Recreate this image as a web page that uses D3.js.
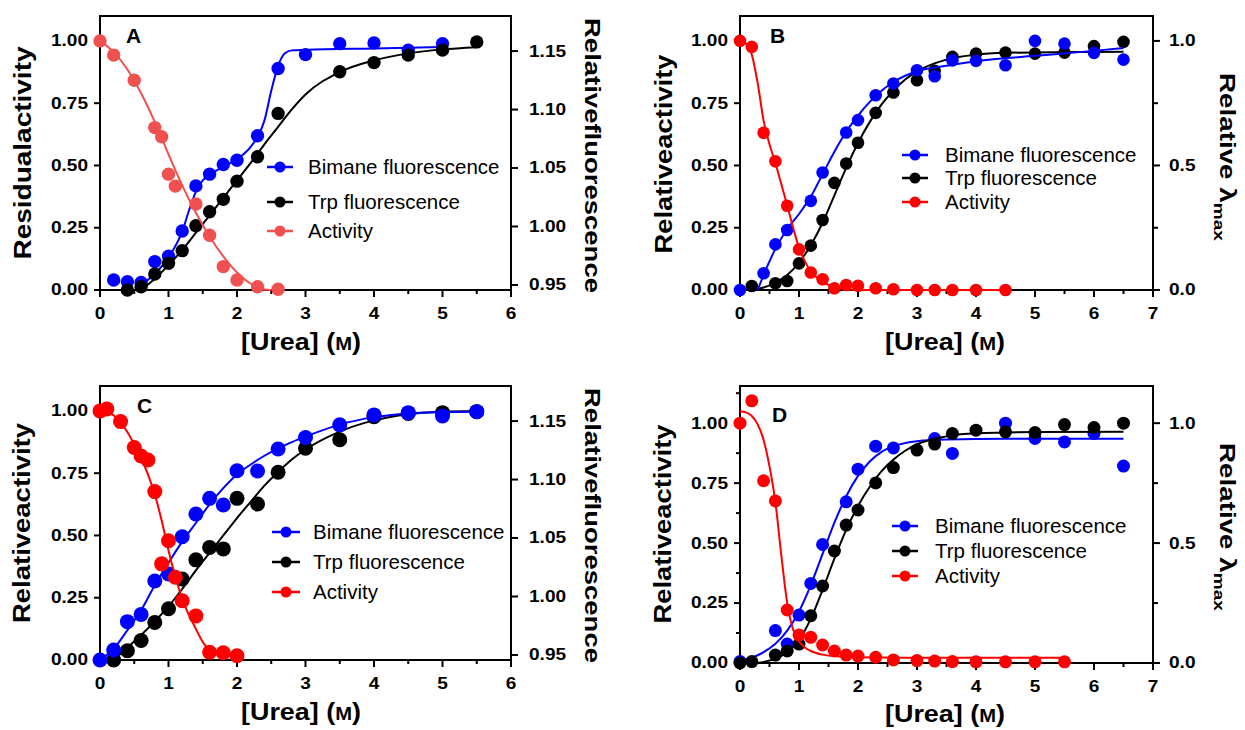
<!DOCTYPE html>
<html>
<head>
<meta charset="utf-8">
<script src="https://cdn.jsdelivr.net/npm/d3@7"></script>
<style>
  body { margin: 0; background: #fff; }
  svg { display: block; }
  text { font-family: "Liberation Sans", Arial, Helvetica, sans-serif; fill: #000; }
</style>
</head>
<body>
<svg id="fig" width="1245" height="730"></svg>
<script>
// ---------- measured points: [urea (M), normalised signal] ----------
const bimaneA   = [[0.2,0.04],[0.4,0.033],[0.6,0.03],[0.8,0.114],[1.0,0.136],[1.2,0.237],[1.4,0.418],[1.6,0.465],[1.8,0.504],[2.0,0.521],[2.3,0.619],[2.6,0.889],[3.0,0.945],[3.5,0.989],[4.0,0.992],[4.5,0.963],[5.0,0.989]];
const trpA      = [[0.4,0.0],[0.6,0.013],[0.8,0.064],[1.0,0.107],[1.2,0.158],[1.4,0.258],[1.6,0.314],[1.8,0.364],[2.0,0.437],[2.3,0.535],[2.6,0.709],[3.5,0.876],[4.0,0.913],[4.5,0.943],[5.0,0.963],[5.5,0.996]];
const activityA = [[0,1.0],[0.2,0.943],[0.5,0.842],[0.8,0.652],[0.9,0.615],[1.0,0.465],[1.1,0.417],[1.4,0.345],[1.6,0.22],[1.8,0.094],[2.0,0.04],[2.3,0.013],[2.6,0.003]];

const bimaneB   = [[0,0],[0.4,0.067],[0.6,0.183],[0.8,0.241],[1.2,0.358],[1.4,0.472],[1.8,0.632],[2.0,0.682],[2.3,0.782],[2.6,0.829],[3.0,0.882],[3.3,0.858],[3.6,0.922],[4.0,0.92],[4.5,0.902],[5.0,1.0],[5.5,0.989],[6.0,0.952],[6.5,0.925]];
const trpB      = [[0.2,0.016],[0.6,0.027],[0.8,0.036],[1.0,0.107],[1.2,0.178],[1.4,0.281],[1.6,0.43],[1.8,0.508],[2.0,0.591],[2.3,0.711],[2.6,0.793],[3.0,0.842],[3.3,0.88],[3.6,0.936],[4.0,0.949],[4.5,0.953],[5.0,0.949],[5.5,0.953],[6.0,0.979],[6.5,0.996]];
const activityB = [[0,1.0],[0.2,0.976],[0.4,0.631],[0.6,0.517],[0.8,0.338],[1.0,0.163],[1.2,0.07],[1.4,0.043],[1.6,0.007],[1.8,0.02],[2.0,0.017],[2.3,0.007],[2.6,0.003],[3.0,0],[3.3,0],[3.6,0],[4.0,0],[4.5,0]];

const bimaneC   = [[0,0],[0.2,0.04],[0.4,0.154],[0.6,0.183],[0.8,0.317],[1.0,0.345],[1.2,0.495],[1.4,0.586],[1.6,0.649],[1.8,0.622],[2.0,0.76],[2.3,0.759],[2.6,0.847],[3.0,0.893],[3.5,0.944],[4.0,0.984],[4.5,0.993],[5.0,0.98],[5.5,0.997]];
const trpC      = [[0.2,0.0],[0.4,0.037],[0.6,0.078],[0.8,0.151],[1.0,0.206],[1.2,0.325],[1.4,0.402],[1.6,0.452],[1.8,0.446],[2.0,0.649],[2.3,0.626],[2.6,0.754],[3.0,0.85],[3.5,0.884],[4.0,0.977],[4.5,0.99],[5.0,0.993],[5.5,0.997]];
const activityC = [[0,1.0],[0.1,1.008],[0.3,0.957],[0.5,0.853],[0.6,0.819],[0.7,0.803],[0.8,0.676],[0.9,0.386],[1.0,0.479],[1.1,0.332],[1.2,0.238],[1.4,0.177],[1.6,0.031],[1.8,0.029],[2.0,0.017]];

const bimaneD   = [[0,0.006],[0.6,0.135],[0.8,0.079],[1.0,0.2],[1.2,0.332],[1.4,0.494],[1.8,0.672],[2.0,0.808],[2.3,0.904],[2.6,0.897],[3.3,0.936],[3.6,0.874],[4.5,1.0],[5.0,0.936],[5.5,0.922],[6.0,0.957],[6.5,0.821]];
const trpD      = [[0,0],[0.2,0.006],[0.6,0.033],[0.8,0.05],[1.0,0.079],[1.2,0.197],[1.4,0.321],[1.6,0.467],[1.8,0.575],[2.0,0.638],[2.3,0.751],[2.6,0.815],[3.0,0.888],[3.3,0.913],[3.6,0.957],[4.0,0.971],[4.5,0.964],[5.0,0.961],[5.5,0.994],[6.0,0.982],[6.5,1.0]];
const activityD = [[0,1.0],[0.2,1.093],[0.4,0.76],[0.6,0.676],[0.8,0.221],[1.0,0.117],[1.2,0.107],[1.4,0.075],[1.6,0.05],[1.8,0.033],[2.0,0.029],[2.3,0.024],[2.6,0.013],[3.0,0.01],[3.3,0.008],[3.6,0.006],[4.0,0.005],[4.5,0.005],[5.0,0.005],[5.5,0.005]];

// ---------- fitted curves, sampled: [urea (M), fitted signal] ----------
const bimaneFitA   = [[0.6,0.02],[0.8,0.065],[1.0,0.13],[1.2,0.235],[1.3,0.32],[1.4,0.395],[1.5,0.44],[1.6,0.462],[1.8,0.495],[2.0,0.525],[2.2,0.575],[2.3,0.615],[2.4,0.68],[2.5,0.8],[2.6,0.9],[2.7,0.95],[2.8,0.962],[3.0,0.964],[4.0,0.97],[5.0,0.976]];
const trpFitA      = [[0.6,0.0],[0.8,0.045],[1.0,0.1],[1.2,0.16],[1.4,0.23],[1.6,0.3],[1.8,0.37],[2.0,0.44],[2.2,0.51],[2.4,0.585],[2.6,0.655],[2.8,0.725],[3.0,0.785],[3.5,0.875],[4.0,0.922],[4.5,0.95],[5.0,0.966],[5.5,0.975]];
const activityFitA = [[0,1.0],[0.2,0.955],[0.4,0.885],[0.6,0.79],[0.8,0.675],[1.0,0.545],[1.2,0.42],[1.4,0.31],[1.6,0.215],[1.8,0.135],[2.0,0.07],[2.2,0.025],[2.4,0.002],[2.5,0.0]];

const bimaneFitB   = [[0.3,0.0],[0.4,0.06],[0.6,0.165],[0.8,0.245],[1.0,0.305],[1.2,0.375],[1.4,0.465],[1.6,0.555],[1.8,0.635],[2.0,0.7],[2.2,0.755],[2.4,0.8],[2.6,0.835],[2.8,0.86],[3.0,0.878],[3.5,0.9],[4.0,0.918],[5.0,0.94],[6.0,0.96],[6.5,0.972]];
const trpFitB      = [[0.2,0.0],[0.4,0.01],[0.6,0.03],[0.8,0.06],[1.0,0.11],[1.2,0.18],[1.4,0.27],[1.6,0.38],[1.8,0.49],[2.0,0.59],[2.2,0.675],[2.4,0.745],[2.6,0.8],[2.8,0.845],[3.0,0.878],[3.5,0.925],[4.0,0.945],[4.5,0.952],[5.5,0.955],[6.5,0.956]];
const activityFitB = [[0,1.0],[0.1,0.99],[0.2,0.945],[0.3,0.83],[0.4,0.68],[0.5,0.585],[0.6,0.51],[0.7,0.425],[0.8,0.34],[0.9,0.25],[1.0,0.17],[1.1,0.115],[1.2,0.075],[1.3,0.05],[1.4,0.033],[1.6,0.012],[1.8,0.004],[2.0,0.0],[4.5,0.0]];

const bimaneFitC   = [[0,0],[0.2,0.045],[0.4,0.12],[0.6,0.2],[0.8,0.3],[1.0,0.39],[1.2,0.475],[1.4,0.55],[1.6,0.625],[1.8,0.69],[2.0,0.745],[2.2,0.785],[2.4,0.82],[2.6,0.85],[2.8,0.875],[3.0,0.897],[3.5,0.945],[4.0,0.975],[4.5,0.99],[5.0,0.995],[5.5,0.997]];
const trpFitC      = [[0.2,0.0],[0.4,0.05],[0.6,0.1],[0.8,0.155],[1.0,0.215],[1.2,0.285],[1.4,0.36],[1.6,0.43],[1.8,0.5],[2.0,0.57],[2.2,0.635],[2.4,0.7],[2.6,0.755],[2.8,0.805],[3.0,0.845],[3.5,0.917],[4.0,0.962],[4.5,0.987],[5.0,0.997],[5.5,1.0]];
const activityFitC = [[0,1.0],[0.1,0.997],[0.2,0.982],[0.3,0.955],[0.4,0.915],[0.5,0.865],[0.6,0.81],[0.7,0.745],[0.8,0.665],[0.9,0.56],[1.0,0.44],[1.1,0.335],[1.2,0.245],[1.3,0.18],[1.4,0.125],[1.5,0.072],[1.6,0.038],[1.7,0.024],[1.8,0.019],[2.0,0.016]];

const bimaneFitD   = [[0,0.01],[0.2,0.022],[0.4,0.045],[0.6,0.08],[0.8,0.135],[1.0,0.215],[1.2,0.325],[1.4,0.455],[1.6,0.585],[1.8,0.695],[2.0,0.78],[2.2,0.84],[2.4,0.88],[2.6,0.903],[2.8,0.917],[3.0,0.925],[3.5,0.932],[4.5,0.935],[6.5,0.935]];
const trpFitD      = [[0.3,0.0],[0.6,0.018],[0.8,0.045],[1.0,0.095],[1.2,0.185],[1.4,0.305],[1.6,0.435],[1.8,0.555],[2.0,0.655],[2.2,0.735],[2.4,0.8],[2.6,0.848],[2.8,0.885],[3.0,0.912],[3.5,0.945],[4.0,0.958],[5.0,0.963],[6.5,0.964]];
const activityFitD = [[0,1.05],[0.1,1.045],[0.2,1.03],[0.3,0.995],[0.4,0.93],[0.5,0.82],[0.6,0.67],[0.7,0.45],[0.8,0.25],[0.9,0.14],[1.0,0.09],[1.1,0.065],[1.2,0.05],[1.4,0.035],[1.7,0.027],[2.0,0.024],[3.0,0.022],[5.5,0.022]];

// ---------- labels and ticks ----------
const legendLabels   = ["Bimane fluorescence", "Trp fluorescence", "Activity"];
const leftTicks      = [0, 0.25, 0.5, 0.75, 1.0];
const leftMinorD     = [0.125, 0.375, 0.625, 0.875, 1.125];
const fluorTicks     = [0.95, 1.00, 1.05, 1.10, 1.15];
const lambdaTicks    = [0, 0.5, 1.0];
const lambdaMinor    = [0.25, 0.75];
const xTitleMain     = "[Urea] (";
const xTitleUnit     = "M";

const BLUE = "#0000ff", BLACK = "#000000", RED = "#ff0000", SALMON = "#f05050";

// ---------- panel layout ----------
const panels = [
  { letter: "A", lx: 126, ly: 43, ox: 100, oy: 16, w: 411, h: 274, xMax: 6, yTop: 1.1, r: 6.7,
    yTitle: "Residualactivity", yTitleX: 31, yTitleY: 153, yTitleLen: 213,
    right: "fluor", rTitleX: 585, rTitleY: 155.5,
    xTitleX: 301, xTitleY: 350,
    series: [ {d: bimaneA, f: bimaneFitA, c: BLUE}, {d: trpA, f: trpFitA, c: BLACK}, {d: activityA, f: activityFitA, c: SALMON} ],
    legend: { x1: 267, x2: 293, cx: 280, tx: 308, rows: [167, 202, 231] } },
  { letter: "B", lx: 770, ly: 43, ox: 740, oy: 16, w: 413, h: 274, xMax: 7, yTop: 1.1, r: 6.3,
    yTitle: "Relativeactivity", yTitleX: 672, yTitleY: 154, yTitleLen: 199,
    right: "lambda", rTitleX: 1220, rTitleY: 157,
    xTitleX: 945, xTitleY: 350,
    series: [ {d: trpB, f: trpFitB, c: BLACK}, {d: bimaneB, f: bimaneFitB, c: BLUE}, {d: activityB, f: activityFitB, c: RED} ],
    legend: { x1: 902, x2: 928, cx: 915, tx: 945, rows: [155, 178, 202] } },
  { letter: "C", lx: 137, ly: 413, ox: 100, oy: 386, w: 411, h: 274, xMax: 6, yTop: 1.1, r: 7.5,
    yTitle: "Relativeactivity", yTitleX: 30, yTitleY: 523, yTitleLen: 200,
    right: "fluor", rTitleX: 585, rTitleY: 525.5,
    xTitleX: 301, xTitleY: 720,
    series: [ {d: trpC, f: trpFitC, c: BLACK}, {d: bimaneC, f: bimaneFitC, c: BLUE}, {d: activityC, f: activityFitC, c: RED} ],
    legend: { x1: 272, x2: 300, cx: 286, tx: 313, rows: [532, 562, 592] } },
  { letter: "D", lx: 772, ly: 422, ox: 740, oy: 386, w: 413, h: 277, xMax: 7, yTop: 1.155, r: 6.5,
    yTitle: "Relativeactivity", yTitleX: 671, yTitleY: 524, yTitleLen: 199, leftMinor: true,
    right: "lambda", rTitleX: 1220, rTitleY: 527,
    xTitleX: 945, xTitleY: 722,
    series: [ {d: bimaneD, f: bimaneFitD, c: BLUE}, {d: trpD, f: trpFitD, c: BLACK}, {d: activityD, f: activityFitD, c: RED} ],
    legend: { x1: 892, x2: 918, cx: 905, tx: 935, rows: [526, 551, 576] } }
];

const svg = d3.select("#fig");
const TICK_FONT = 17, TICK_STRETCH = 1.12;

// stretch bold labels horizontally so they keep the wide look of the figure's type
function widen(sel, k) {
  sel.each(function () {
    const L = this.getComputedTextLength();
    d3.select(this).attr("textLength", L * k).attr("lengthAdjust", "spacingAndGlyphs");
  });
}

function styleAxis(g) {
  g.select(".domain").attr("stroke-width", 2).attr("stroke-linecap", "square");
  g.selectAll(".tick line").attr("stroke-width", 2);
  g.selectAll(".tick text")
    .attr("font-size", TICK_FONT).attr("font-weight", "bold")
    .attr("font-family", "'Liberation Sans', Arial, sans-serif");
  widen(g.selectAll(".tick text"), TICK_STRETCH);
}

panels.forEach(p => {
  const g = svg.append("g").attr("transform", `translate(${p.ox},${p.oy})`);
  const x = d3.scaleLinear().domain([0, p.xMax]).range([0, p.w]);
  const y = d3.scaleLinear().domain([0, p.yTop]).range([p.h, 0]);
  const yFluor = d3.scaleLinear().domain([0.9457, 1.18]).range([p.h, 0]);

  // top edge of the frame
  g.append("line").attr("x1", 0).attr("x2", p.w).attr("y1", 0).attr("y2", 0)
    .attr("stroke", "#000").attr("stroke-width", 2).attr("stroke-linecap", "square");

  // bottom axis with half-molar minor ticks
  g.append("g").attr("transform", `translate(0,${p.h})`)
    .call(d3.axisBottom(x).tickValues(d3.range(0.5, p.xMax, 1)).tickFormat("").tickSize(4).tickSizeOuter(0).offset(0))
    .call(styleAxis);
  g.append("g").attr("transform", `translate(0,${p.h})`)
    .call(d3.axisBottom(x).tickValues(d3.range(0, p.xMax + 1)).tickFormat(d3.format("d")).tickSize(7).tickPadding(10).tickSizeOuter(0).offset(0))
    .call(styleAxis);

  // left axis
  if (p.leftMinor) {
    g.append("g").call(d3.axisLeft(y).tickValues(leftMinorD).tickFormat("").tickSize(4).tickSizeOuter(0).offset(0)).call(styleAxis);
  }
  g.append("g")
    .call(d3.axisLeft(y).tickValues(leftTicks).tickFormat(d3.format(".2f")).tickSize(6).tickPadding(6).tickSizeOuter(0).offset(0))
    .call(styleAxis);

  // right axis
  const rg = g.append("g").attr("transform", `translate(${p.w},0)`);
  if (p.right === "fluor") {
    rg.call(d3.axisRight(yFluor).tickValues(fluorTicks).tickFormat(d3.format(".2f")).tickSize(7).tickPadding(11).tickSizeOuter(0).offset(0)).call(styleAxis);
    // extend the right spine over the full plot height
    rg.select(".domain").attr("d", `M0,0V${p.h}`);
  } else {
    g.append("g").attr("transform", `translate(${p.w},0)`)
      .call(d3.axisRight(y).tickValues(lambdaMinor).tickFormat("").tickSize(5).tickSizeOuter(0).offset(0)).call(styleAxis);
    rg.call(d3.axisRight(y).tickValues(lambdaTicks).tickFormat(d3.format(".1f")).tickSize(7).tickPadding(9).tickSizeOuter(0).offset(0)).call(styleAxis);
    rg.select(".domain").attr("d", `M0,0V${p.h}`);
  }

  // fitted curves and points
  const line = d3.line().x(d => x(d[0])).y(d => y(d[1])).curve(d3.curveMonotoneX);
  p.series.forEach(s => {
    g.append("path").datum(s.f).attr("d", line)
      .attr("fill", "none").attr("stroke", s.c).attr("stroke-width", 2);
    g.append("g").selectAll("circle").data(s.d).join("circle")
      .attr("cx", d => x(d[0])).attr("cy", d => y(d[1])).attr("r", p.r)
      .attr("fill", s.c);
  });

  // panel letter
  svg.append("text").attr("x", p.lx).attr("y", p.ly)
    .attr("font-size", 21).attr("font-weight", "bold").text(p.letter);

  // legend (Bimane, Trp, Activity)
  const legendColors = [BLUE, BLACK, p.series.find(s => s.d === activityA || s.d === activityB || s.d === activityC || s.d === activityD).c];
  legendLabels.forEach((lab, i) => {
    const cy = p.legend.rows[i];
    svg.append("line").attr("x1", p.legend.x1).attr("x2", p.legend.x2).attr("y1", cy).attr("y2", cy)
      .attr("stroke", legendColors[i]).attr("stroke-width", 2.5);
    svg.append("circle").attr("cx", p.legend.cx).attr("cy", cy).attr("r", 5.5).attr("fill", legendColors[i]);
    svg.append("text").attr("x", p.legend.tx).attr("y", cy + 7.3)
      .attr("font-size", 20.5).text(lab);
  });

  // left axis title
  svg.append("text")
    .attr("transform", `translate(${p.yTitleX},${p.yTitleY}) rotate(-90)`)
    .attr("text-anchor", "middle").attr("font-size", 23.5).attr("font-weight", "bold")
    .attr("textLength", p.yTitleLen).attr("lengthAdjust", "spacingAndGlyphs")
    .text(p.yTitle);

  // right axis title
  if (p.right === "fluor") {
    svg.append("text")
      .attr("transform", `translate(${p.rTitleX},${p.rTitleY}) rotate(90)`)
      .attr("text-anchor", "middle").attr("font-size", 22.5).attr("font-weight", "bold")
      .attr("textLength", 275).attr("lengthAdjust", "spacingAndGlyphs")
      .text("Relativefluorescence");
  } else {
    const t = svg.append("text")
      .attr("transform", `translate(${p.rTitleX},${p.rTitleY}) rotate(90)`)
      .attr("text-anchor", "middle").attr("font-size", 22.5).attr("font-weight", "bold")
      .attr("textLength", 168).attr("lengthAdjust", "spacingAndGlyphs");
    t.append("tspan").text("Relative \u03bb");
    t.append("tspan").attr("font-size", 15.5).attr("dy", 6).text("max");
  }

  // bottom axis title, with the molar unit in small capitals
  const xt = svg.append("text").attr("x", p.xTitleX).attr("y", p.xTitleY)
    .attr("text-anchor", "middle").attr("font-size", 24).attr("font-weight", "bold")
    .attr("textLength", 120).attr("lengthAdjust", "spacingAndGlyphs");
  xt.append("tspan").text(xTitleMain);
  xt.append("tspan").attr("font-size", 18).text(xTitleUnit);
  xt.append("tspan").text(")");
});
</script>
</body>
</html>
